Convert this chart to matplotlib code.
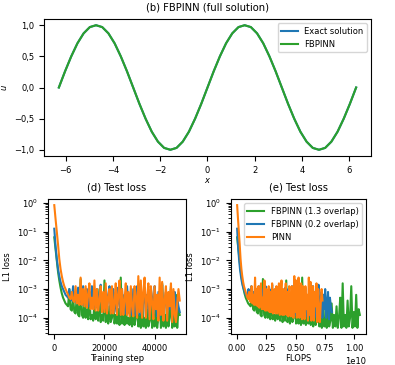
import numpy as np
import matplotlib
matplotlib.use("Agg")
import matplotlib.pyplot as plt
from matplotlib.ticker import FuncFormatter

plt.rcParams['font.size'] = 6
plt.rcParams['axes.titlesize'] = 7.2

# ---- (b) full solution: samples read every 15 degrees over [-2pi, 2pi]
x_pts = np.linspace(-6.2832, 6.2832, 49)
u_exact = [0, 0.26, 0.5, 0.71, 0.87, 0.97, 1.0, 0.97, 0.87, 0.71, 0.5, 0.26,
           0, -0.26, -0.5, -0.71, -0.87, -0.97, -1.0, -0.97, -0.87, -0.71, -0.5, -0.26,
           0, 0.26, 0.5, 0.71, 0.87, 0.97, 1.0, 0.97, 0.87, 0.71, 0.5, 0.26,
           0, -0.26, -0.5, -0.71, -0.87, -0.97, -1.0, -0.97, -0.87, -0.71, -0.5, -0.26, 0]
u_fbpinn = list(u_exact)

# ---- test losses (log10 of L1 loss), sampled every 500 training steps
steps = np.arange(0, 50001, 500)
pinn_log = [-0.08, -0.55, -1.0, -1.45, -1.95, -2.3, -2.55, -2.75, -2.9, -3.0,
            -3.1, -3.2, -3.3, -3.35, -3.1, -3.4, -3.45, -2.9, -3.5, -3.2,
            -3.55, -2.6, -3.55, -3.0, -3.6, -2.9, -3.65, -3.2, -2.8, -3.7,
            -3.3, -3.7, -2.7, -3.75, -3.0, -3.75, -3.4, -2.9, -3.8, -3.1,
            -3.8, -2.8, -3.85, -3.3, -3.0, -3.85, -2.9, -3.85, -3.5, -2.8,
            -3.9, -3.2, -2.7, -3.9, -3.0, -3.9, -3.4, -2.8, -3.9, -3.1,
            -3.95, -2.9, -3.6, -3.95, -2.9, -3.3, -4.0, -2.55, -3.8, -2.7,
            -4.0, -3.1, -2.6, -4.0, -3.3, -2.8, -4.05, -2.9, -3.5, -4.05,
            -2.9, -3.7, -3.2, -4.1, -2.6, -3.9, -2.75, -4.1, -3.4, -2.9,
            -4.1, -3.1, -3.6, -2.8, -4.15, -3.0, -3.9, -4.15, -3.5, -3.0, -3.4]
fb02_log = [-0.9, -1.5, -1.95, -2.3, -2.55, -2.75, -2.9, -3.0, -3.1, -3.2,
            -3.25, -3.3, -3.0, -3.35, -3.4, -2.9, -3.45, -3.1, -3.5, -2.95,
            -3.5, -3.2, -3.55, -2.9, -3.55, -3.3, -3.0, -3.6, -3.1, -3.6,
            -2.9, -3.65, -3.3, -3.65, -3.0, -3.7, -3.2, -2.85, -3.7, -3.4,
            -3.7, -3.0, -3.75, -3.2, -2.9, -3.75, -3.4, -3.0, -3.8, -3.1,
            -3.8, -2.95, -3.5, -3.8, -3.0, -3.85, -3.2, -3.85, -2.9, -3.5,
            -3.85, -3.1, -3.9, -3.0, -3.6, -3.9, -2.9, -3.3, -3.9, -3.0,
            -3.9, -3.4, -2.95, -3.95, -3.2, -3.6, -3.95, -3.0, -3.3, -3.95,
            -2.9, -3.5, -3.95, -3.1, -4.0, -3.3, -2.85, -4.0, -3.4, -3.1,
            -4.0, -3.2, -3.7, -3.0, -4.0, -3.5, -3.1, -4.05, -3.3, -3.6, -3.8]
fb13_log = [-1.2, -1.6, -2.0, -2.4, -2.7, -2.95, -3.15, -3.3, -3.4, -3.5,
            -3.55, -3.6, -3.0, -3.7, -3.75, -3.3, -3.8, -3.85, -3.2, -3.9,
            -3.95, -2.65, -3.9, -4.0, -3.4, -4.0, -3.7, -4.05, -3.2, -4.05,
            -3.9, -4.1, -3.5, -4.05, -3.8, -4.1, -3.0, -4.15, -3.9, -4.1,
            -2.7, -4.15, -3.9, -4.2, -3.6, -4.15, -4.0, -3.3, -4.2, -3.9,
            -4.2, -3.7, -4.25, -2.6, -4.2, -3.9, -4.25, -3.5, -4.2, -4.0,
            -4.25, -3.8, -4.3, -3.4, -4.25, -4.0, -3.6, -4.3, -3.9, -4.35,
            -3.2, -4.3, -4.0, -4.35, -3.7, -4.3, -4.1, -3.5, -4.35, -3.9,
            -4.3, -3.6, -4.35, -4.0, -3.3, -4.35, -2.8, -4.3, -3.9, -4.35,
            -3.4, -4.3, -4.0, -2.9, -4.35, -3.8, -4.3, -3.2, -4.35, -3.7, -3.9]
# total FLOPS at the end of training for each run
flops_total = {"fb13": 1.05e10, "fb02": 0.81e10, "pinn": 0.73e10}

labels = ["FBPINN (1.3 overlap)", "FBPINN (0.2 overlap)", "PINN"]
colors = ["#2ca02c", "#1f77b4", "#ff7f0e"]

fig = plt.figure(figsize=(3.95, 3.65), dpi=100)

# top panel
ax1 = fig.add_axes([44/395, 1-156/365, 327/395, 137/365])
ax1.plot(x_pts, u_exact, color="#1f77b4", label="Exact solution")
ax1.plot(x_pts, u_fbpinn, color="#2ca02c", label="FBPINN")
ax1.set_title("(b) FBPINN (full solution)")
ax1.set_xlabel("$x$", labelpad=1)
ax1.set_ylabel("$u$")
ax1.yaxis.set_major_formatter(FuncFormatter(
    lambda v, p: f"{v:.1f}".replace(".", ",").replace("-", "\u2212")))
ax1.legend(loc="upper right")

series = [(fb13_log, "fb13"), (fb02_log, "fb02"), (pinn_log, "pinn")]

ax2 = fig.add_axes([48/395, 1-334/365, 138/395, 135/365])
for (lg, key), lab, c in zip(series, labels, colors):
    ax2.plot(steps, 10**np.array(lg), color=c, label=lab)
ax2.set_yscale("log")
ax2.set_title("(d) Test loss")
ax2.set_xlabel("Training step", labelpad=1)
ax2.set_ylabel("L1 loss")

ax3 = fig.add_axes([231/395, 1-334/365, 135/395, 135/365])
for (lg, key), lab, c in zip(series, labels, colors):
    fl = steps / steps[-1] * flops_total[key]
    ax3.plot(fl, 10**np.array(lg), color=c, label=lab)
ax3.set_yscale("log")
ax3.set_title("(e) Test loss")
ax3.set_xlabel("FLOPS", labelpad=1)
ax3.set_ylabel("L1 loss")
ax3.set_xticks([0, 0.25e10, 0.5e10, 0.75e10, 1.0e10])
ax3.legend(loc="upper right")

fig.savefig("out.png", dpi=100)
